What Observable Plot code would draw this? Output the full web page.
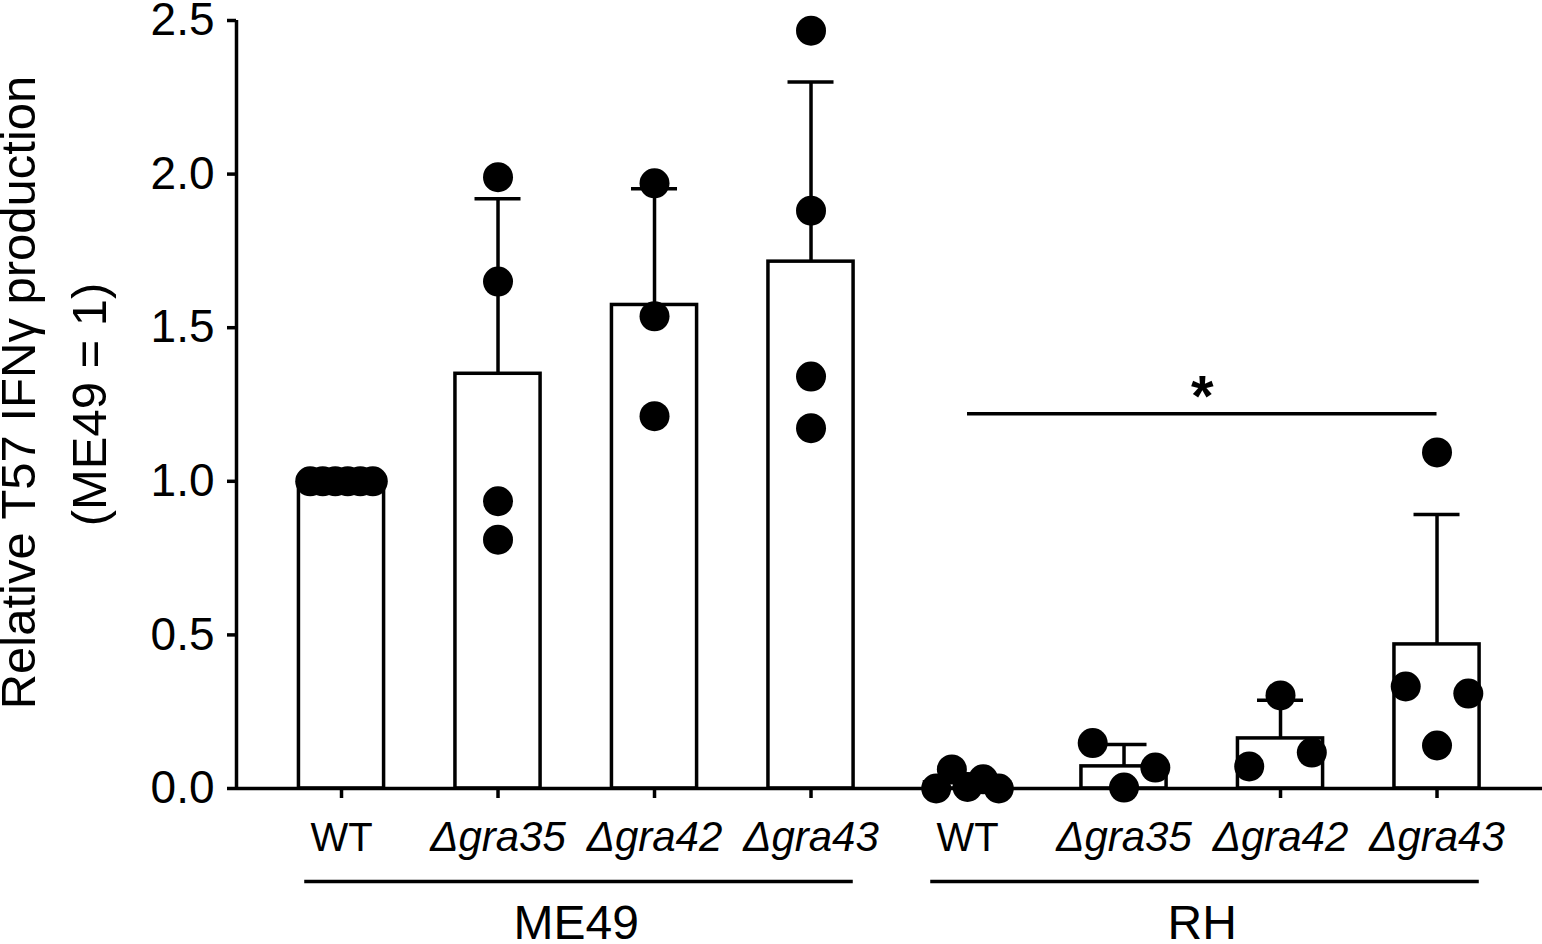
<!DOCTYPE html>
<html>
<head>
<meta charset="utf-8">
<script src="https://cdn.jsdelivr.net/npm/d3@7"></script>
<script src="https://cdn.jsdelivr.net/npm/@observablehq/plot@0.6"></script>
<style>
  html, body { margin: 0; padding: 0; background: #fff; }
  #chart svg { display: block; }
</style>
</head>
<body>
<div id="chart"></div>
<script>
// ---------- data ----------
const categories = ["ME49 WT", "ME49 Δgra35", "ME49 Δgra42", "ME49 Δgra43", "RH WT", "RH Δgra35", "RH Δgra42", "RH Δgra43"];
const tickLabels = ["WT", "Δgra35", "Δgra42", "Δgra43", "WT", "Δgra35", "Δgra42", "Δgra43"];
const strains = ["ME49", "ME49", "ME49", "ME49", "RH", "RH", "RH", "RH"];
const means = [1.0, 1.35, 1.574, 1.715, 0.02, 0.072, 0.163, 0.469];
const sds = [0, 0.57, 0.378, 0.585, 0.026, 0.071, 0.124, 0.423];
const replicates = [
  [1.0, 1.0, 1.0, 1.0, 1.0, 1.0],
  [1.99, 1.65, 0.935, 0.81],
  [1.97, 1.537, 1.212],
  [2.467, 1.881, 1.341, 1.173],
  [0.0, 0.062, 0.005, 0.03, 0.0],
  [0.148, 0.003, 0.068],
  [0.072, 0.303, 0.117],
  [1.094, 0.332, 0.309, 0.14]
];
const yTicks = [0, 0.5, 1.0, 1.5, 2.0, 2.5];
const groupNames = ["ME49", "RH"];
const yTitle = ["Relative T57 IFNγ production", "(ME49 = 1)"];
const significance = [{from: "RH WT", to: "RH Δgra43", y: 1.22, label: "*"}];

// ---------- derived tables ----------
const cats = categories.map((c, i) => ({
  id: c, i, label: tickLabels[i], strain: strains[i],
  mean: means[i], sd: sds[i], top: means[i] + sds[i],
  italic: tickLabels[i] !== "WT"
}));

// dot placement: points whose circles would overlap vertically are spread
// symmetrically around the category centre (Prism-like scatter)
const collide = 0.098;  // dot diameter in y units
const spread = 0.40;    // total width of a spread cluster, in category steps
const dots = [];
replicates.forEach((vals, i) => {
  const order = vals.map((v, k) => ({v, k})).sort((a, b) => a.v - b.v);
  const clusters = [];
  for (const p of order) {
    const last = clusters[clusters.length - 1];
    if (last && p.v - last[last.length - 1].v < collide) last.push(p);
    else clusters.push([p]);
  }
  for (const c of clusters) {
    const members = c.slice().sort((a, b) => a.k - b.k);
    members.forEach((p, j) => {
      const off = members.length === 1 ? 0 : (j / (members.length - 1) - 0.5) * spread;
      dots.push({cat: categories[i], value: p.v, x: i + off});
    });
  }
});

const groups = groupNames.map(g => {
  const idx = cats.filter(d => d.strain === g).map(d => d.i);
  return {name: g, first: d3.min(idx), last: d3.max(idx)};
});

const sig = significance.map(s => ({
  ...s,
  x1: categories.indexOf(s.from),
  x2: categories.indexOf(s.to)
}));

// ---------- layout constants ----------
const xDomain = [-0.671, 7.674];
const barHalf = 0.272;
const capHalf = 0.147;
const groupLeft = 0.235, groupRight = 0.27;
const SW = 3.5;
const font = "'Liberation Sans', Arial, Helvetica, sans-serif";

const chart = Plot.plot({
  width: 1542,
  height: 944,
  marginLeft: 236,
  marginRight: 0,
  marginTop: 20,
  marginBottom: 156,
  style: {fontFamily: font, color: "#000", background: "#fff"},
  x: {type: "linear", domain: xDomain, axis: null},
  y: {domain: [0, 2.5], axis: null},
  marks: [
    // bars
    Plot.rect(cats, {
      x1: d => d.i - barHalf, x2: d => d.i + barHalf, y1: 0, y2: "mean",
      fill: "#fff", stroke: "#000", strokeWidth: SW
    }),
    // axes lines
    Plot.ruleY([0], {stroke: "#000", strokeWidth: SW}),
    Plot.ruleX([xDomain[0]], {y1: 0, y2: 2.5, stroke: "#000", strokeWidth: SW}),
    // y axis ticks + labels
    Plot.axisY({
      ticks: yTicks, tickFormat: d3.format(".1f"), tickSize: 9, tickPadding: 13,
      fontSize: 46, strokeWidth: SW, label: null, anchor: "left"
    }),
    // x axis tick marks
    Plot.axisX({
      ticks: cats.map(d => d.i), tickFormat: () => "", tickSize: 10,
      strokeWidth: SW, label: null, anchor: "bottom"
    }),
    // error bars (upper SD)
    Plot.ruleX(cats.filter(d => d.sd > 0), {x: "i", y1: "mean", y2: "top", stroke: "#000", strokeWidth: SW}),
    Plot.ruleY(cats.filter(d => d.sd > 0), {
      y: "top", x1: d => d.i - capHalf, x2: d => d.i + capHalf, stroke: "#000", strokeWidth: SW
    }),
    // replicate points
    Plot.dot(dots, {x: "x", y: "value", r: 15, fill: "#000", stroke: null}),
    // significance
    Plot.ruleY(sig, {y: "y", x1: "x1", x2: "x2", stroke: "#000", strokeWidth: SW}),
    Plot.text(sig, {
      x: d => (d.x1 + d.x2) / 2, y: "y", text: "label", lineAnchor: "bottom", dy: 2,
      fontSize: 58, fontWeight: "bold"
    }),
    // category labels
    Plot.text(cats.filter(d => !d.italic), {
      x: "i", frameAnchor: "bottom", text: "label", lineAnchor: "bottom", dy: 62, fontSize: 40
    }),
    Plot.text(cats.filter(d => d.italic), {
      x: "i", frameAnchor: "bottom", text: "label", lineAnchor: "bottom", dy: 62, fontSize: 42,
      fontStyle: "italic"
    }),
    // group lines and labels
    Plot.ruleY(groups, {
      y: () => 0, x1: d => d.first - groupLeft, x2: d => d.last + groupRight, dy: 93,
      stroke: "#000", strokeWidth: SW
    }),
    Plot.text(groups, {
      x: d => (d.first + d.last) / 2, frameAnchor: "bottom", text: "name",
      lineAnchor: "bottom", dy: 150, fontSize: 48
    }),
    // y title (two lines)
    Plot.text([yTitle[0]], {
      frameAnchor: "left", textAnchor: "middle", rotate: -90, dx: -217, dy: -12, fontSize: 49
    }),
    Plot.text([yTitle[1]], {
      frameAnchor: "left", textAnchor: "middle", rotate: -90, dx: -146, dy: 0, fontSize: 49
    })
  ]
});

document.getElementById("chart").append(chart);
</script>
</body>
</html>
